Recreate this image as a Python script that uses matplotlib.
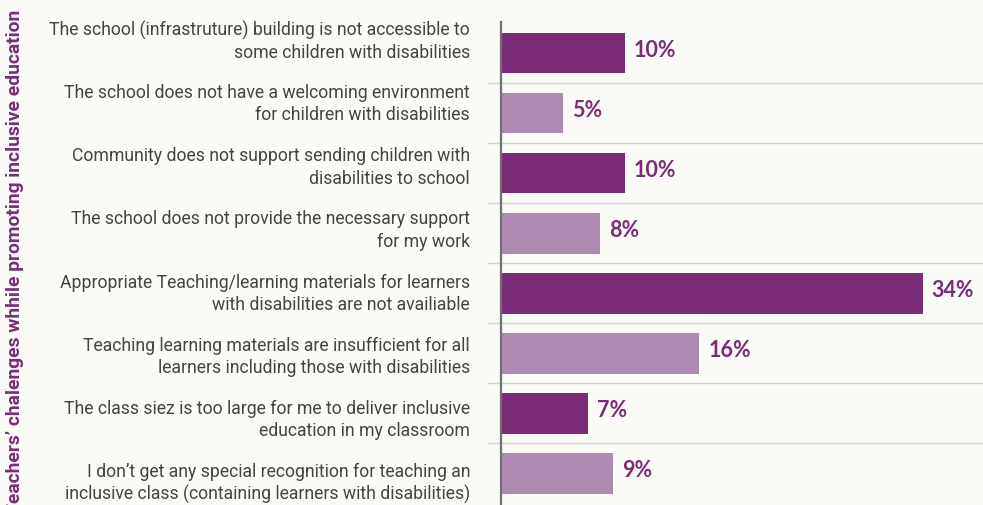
import numpy as np
import matplotlib.pyplot as plt

categories = [
    "The school (infrastruture) building is not accessible to\nsome children with disabilities",
    "The school does not have a welcoming environment\nfor children with disabilities",
    "Community does not support sending children with\ndisabilities to school",
    "The school does not provide the necessary support\nfor my work",
    "Appropriate Teaching/learning materials for learners\nwith disabilities are not availiable",
    "Teaching learning materials are insufficient for all\nlearners including those with disabilities",
    "The class siez is too large for me to deliver inclusive\neducation in my classroom",
    "I don\u2019t get any special recognition for teaching an\ninclusive class (containing learners with disabilities)",
]
values = [10, 5, 10, 8, 34, 16, 7, 9]
value_labels = ["10%", "5%", "10%", "8%", "34%", "16%", "7%", "9%"]
ylabel = "Teachers\u2019 chalenges whhile promoting inclusive education"

dark = "#7b2c76"
light = "#ad8bb1"
bg = "#fafaf7"

W, H = 983, 505
fig = plt.figure(figsize=(W / 100, H / 100), dpi=100, facecolor=bg)
ax = fig.add_axes([501 / W, 0, 482 / W, 1 - 22 / H])
ax.set_facecolor(bg)

y = np.arange(len(values))
colors = [dark if i % 2 == 0 else light for i in y]
ax.barh(y, values, height=0.68, color=colors, zorder=3)

ax.set_xlim(0, 482 / 12.4)
ax.set_ylim(7.53, -0.517)

# separators between categories, reaching a bit left of the axis
trans = ax.get_yaxis_transform()
for g in y[:-1] + 0.5:
    ax.plot([-0.027, 1], [g, g], transform=trans, color="#d6d6d1", lw=1.0,
            clip_on=False, zorder=1)

for i, (v, lab) in enumerate(zip(values, value_labels)):
    ax.text(v + 0.73, i - 0.04, lab, va="center", ha="left", color=dark,
            fontsize=15.5, fontweight="bold", family=["Lato", "DejaVu Sans"])

label_font = ["Roboto", "DejaVu Sans"]
for i, cat in enumerate(categories):
    ax.text(-0.0643, i * 1.053 - 0.2, cat, transform=trans, ha="right",
            va="center", color="#444444", fontsize=12.7, linespacing=1.3,
            family=label_font)

fig.text(15 / W, 1 - 10 / H, ylabel, rotation=90, ha="center", va="top",
         color=dark, fontsize=13.9, fontweight="bold",
         family=["Roboto", "DejaVu Sans"])

ax.set_xticks([])
ax.set_yticks([])
for s in ["top", "right", "bottom"]:
    ax.spines[s].set_visible(False)
ax.spines["left"].set_color("#707070")
ax.spines["left"].set_linewidth(1.6)
ax.spines["left"].set_zorder(4)

fig.savefig("out.png", dpi=100, facecolor=bg)
